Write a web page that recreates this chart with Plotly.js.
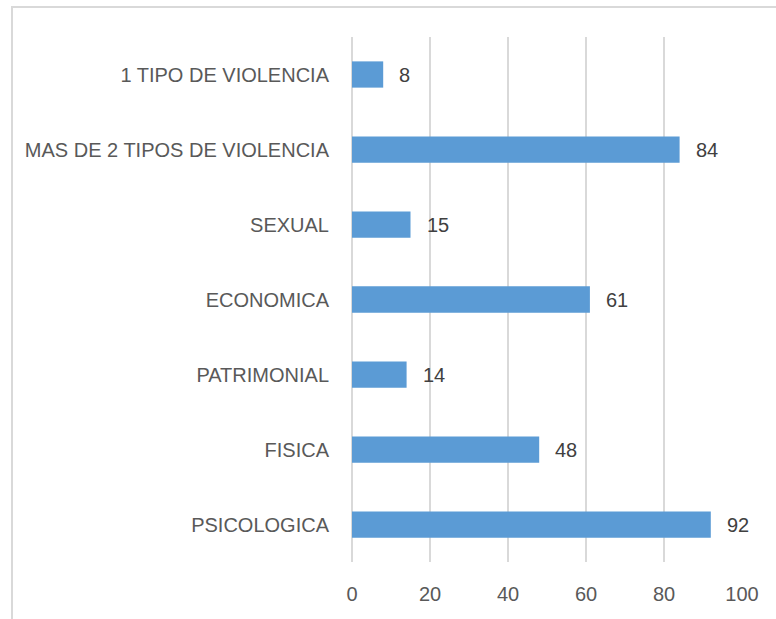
<!DOCTYPE html>
<html>
<head>
<meta charset="utf-8">
<script src="https://cdn.plot.ly/plotly-3.0.1.min.js"></script>
<style>
  html, body { margin: 0; padding: 0; background: #fff; }
  #wrap { position: relative; width: 776px; height: 619px; overflow: hidden; }
  #marco { position: absolute; left: 11px; top: 6px; width: 800px; height: 700px;
           border-left: 2px solid #d9d9d9; border-top: 2px solid #d9d9d9; box-sizing: border-box; }
  #grafica { position: absolute; left: 0; top: 0; width: 776px; height: 619px; }
</style>
</head>
<body>
<div id="wrap">
  <div id="marco"></div>
  <div id="grafica"></div>
</div>
<script>
// categorias de abajo hacia arriba
const categorias = ["PSICOLOGICA", "FISICA", "PATRIMONIAL", "ECONOMICA", "SEXUAL",
                    "MAS DE 2 TIPOS DE VIOLENCIA", "1 TIPO DE VIOLENCIA"];
const valores = [92, 48, 14, 61, 15, 84, 8];
const ticksX = [0, 20, 40, 60, 80, 100];

const gris = "#595959";
const fuente = "Liberation Sans, Arial, sans-serif";

const trace = {
    type: "bar",
    orientation: "h",
    x: valores,
    y: categorias,
    marker: { color: "#5b9bd5" },
    hoverinfo: "none"
};

// etiquetas de datos a la derecha de cada barra
const etiquetas = valores.map((v, i) => ({
    x: v, y: categorias[i], xref: "x", yref: "y",
    text: String(v), showarrow: false, xanchor: "left", xshift: 14,
    font: { family: fuente, size: 20, color: "#404040" }
}));

const layout = {
    width: 776, height: 619,
    margin: { l: 352, r: 34, t: 37, b: 57 },
    paper_bgcolor: "rgba(0,0,0,0)",
    plot_bgcolor: "rgba(0,0,0,0)",
    bargap: 0.65,
    showlegend: false,
    font: { family: fuente, size: 20, color: gris },
    xaxis: {
        range: [0, 100],
        tickvals: ticksX,
        ticktext: ticksX.map(String),
        showgrid: true, gridcolor: "#d9d9d9", gridwidth: 1.5,
        zeroline: true, zerolinecolor: "#d9d9d9", zerolinewidth: 1.5,
        showline: false, ticks: "",
        ticklabelstandoff: 18,
        tickfont: { size: 20, color: gris },
        fixedrange: true
    },
    yaxis: {
        type: "category",
        categoryorder: "array", categoryarray: categorias,
        showgrid: false, zeroline: false, showline: false, ticks: "",
        ticklabelstandoff: 22,
        tickfont: { size: 20, color: gris },
        fixedrange: true
    },
    annotations: etiquetas
};

Plotly.newPlot("grafica", [trace], layout, { displayModeBar: false, staticPlot: true });
</script>
</body>
</html>
